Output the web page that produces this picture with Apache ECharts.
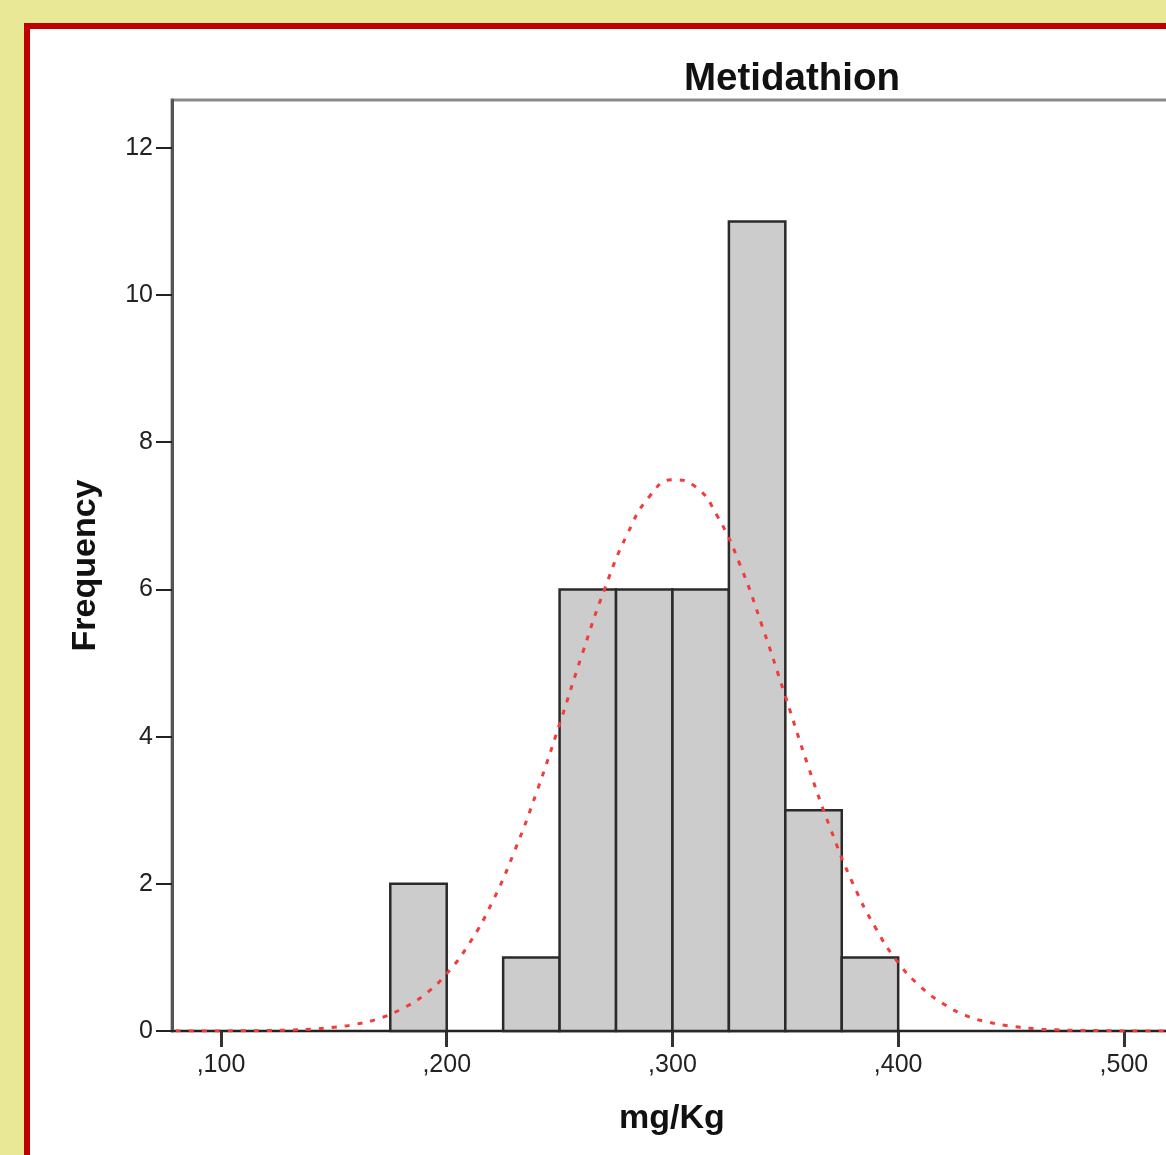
<!DOCTYPE html>
<html>
<head>
<meta charset="utf-8">
<script src="https://cdn.jsdelivr.net/npm/echarts@6/dist/echarts.min.js"></script>
<style>
  html, body { margin: 0; padding: 0; width: 1166px; height: 1155px; overflow: hidden; background: #e8e896; }
  #frame { position: absolute; left: 24px; top: 23px; width: 1200px; height: 1200px; background: #fff; border-left: 6px solid #c00000; border-top: 6px solid #c00000; }
  #chart { position: absolute; left: 0; top: 0; width: 1300px; height: 1155px; }
</style>
</head>
<body>
<div id="frame"></div>
<div id="chart"></div>
<script>
var binStart = [175, 200, 225, 250, 275, 300, 325, 350, 375];
var binCount = [2, 0, 1, 6, 6, 6, 11, 3, 1];
var binWidth = 25;

var curveX = [80, 90, 100, 110, 120, 130, 140, 150, 160, 170, 180, 190, 200, 210, 220, 230, 240, 250, 260, 270, 280, 290, 300, 310, 320, 330, 340, 350, 360, 370, 380, 390, 400, 410, 420, 430, 440, 450, 460, 470, 480, 490, 500, 510, 520];
var curveY = [0, 0, 0.001, 0.003, 0.006, 0.012, 0.025, 0.05, 0.094, 0.17, 0.30, 0.49, 0.78, 1.19, 1.74, 2.44, 3.26, 4.17, 5.12, 6.01, 6.75, 7.27, 7.49, 7.40, 6.99, 6.33, 5.48, 4.55, 3.61, 2.75, 2.00, 1.40, 0.93, 0.60, 0.37, 0.21, 0.12, 0.065, 0.033, 0.016, 0.008, 0.004, 0.001, 0, 0];

var xTicks = [100, 200, 300, 400, 500];
var yTicks = [0, 2, 4, 6, 8, 10, 12];

var chart = echarts.init(document.getElementById('chart'));
var font = 'Liberation Sans, Arial, sans-serif';

chart.setOption({
  animation: false,
  backgroundColor: 'transparent',
  title: {
    text: 'Metidathion',
    left: 787,
    top: 55,
    textAlign: 'center',
    textStyle: { fontFamily: font, fontSize: 38.5, fontWeight: 'bold', color: '#111' }
  },
  grid: {
    left: 172, top: 100, width: 1000, height: 931,
    show: true, borderColor: '#8a8a8a', borderWidth: 3, backgroundColor: 'transparent'
  },
  xAxis: {
    type: 'value',
    min: 78.3, max: 521.3,
    name: 'mg/Kg',
    nameLocation: 'middle',
    nameGap: 71,
    nameTextStyle: { fontFamily: font, fontSize: 34, fontWeight: 'bold', color: '#111' },
    axisLine: { show: true, onZero: false, lineStyle: { color: '#222', width: 2 } },
    axisTick: { show: true, length: 16, lineStyle: { color: '#333', width: 3 }, customValues: xTicks },
    axisLabel: {
      fontFamily: font, fontSize: 25, color: '#222', margin: 22,
      customValues: xTicks,
      formatter: function (v) { return ',' + v; }
    },
    splitLine: { show: false }
  },
  yAxis: {
    type: 'value',
    min: 0, max: 12.65,
    name: 'Frequency',
    nameLocation: 'middle',
    nameGap: 69,
    nameTextStyle: { fontFamily: font, fontSize: 34, fontWeight: 'bold', color: '#111' },
    axisLine: { show: true, lineStyle: { color: '#555', width: 3 } },
    axisTick: { show: true, length: 16, lineStyle: { color: '#222', width: 2 }, customValues: yTicks },
    axisLabel: { fontFamily: font, fontSize: 25, color: '#222', margin: 19, customValues: yTicks },
    splitLine: { show: false }
  },
  series: [{
    type: 'custom',
    data: binStart.map(function (s, i) { return [s, s + binWidth, binCount[i]]; }),
    renderItem: function (params, api) {
      if (api.value(2) <= 0) return;
      var p0 = api.coord([api.value(0), api.value(2)]);
      var p1 = api.coord([api.value(1), 0]);
      return {
        type: 'rect',
        shape: { x: p0[0], y: p0[1], width: p1[0] - p0[0], height: p1[1] - p0[1] },
        style: { fill: '#cccccc', stroke: '#2a2a2a', lineWidth: 2.5 }
      };
    },
    z: 2
  }, {
    type: 'line',
    data: curveX.map(function (x, i) { return [x, curveY[i]]; }),
    smooth: true,
    symbol: 'none',
    lineStyle: { color: '#f23c3c', width: 3, type: [5, 8] },
    z: 5
  }]
});
</script>
</body>
</html>
